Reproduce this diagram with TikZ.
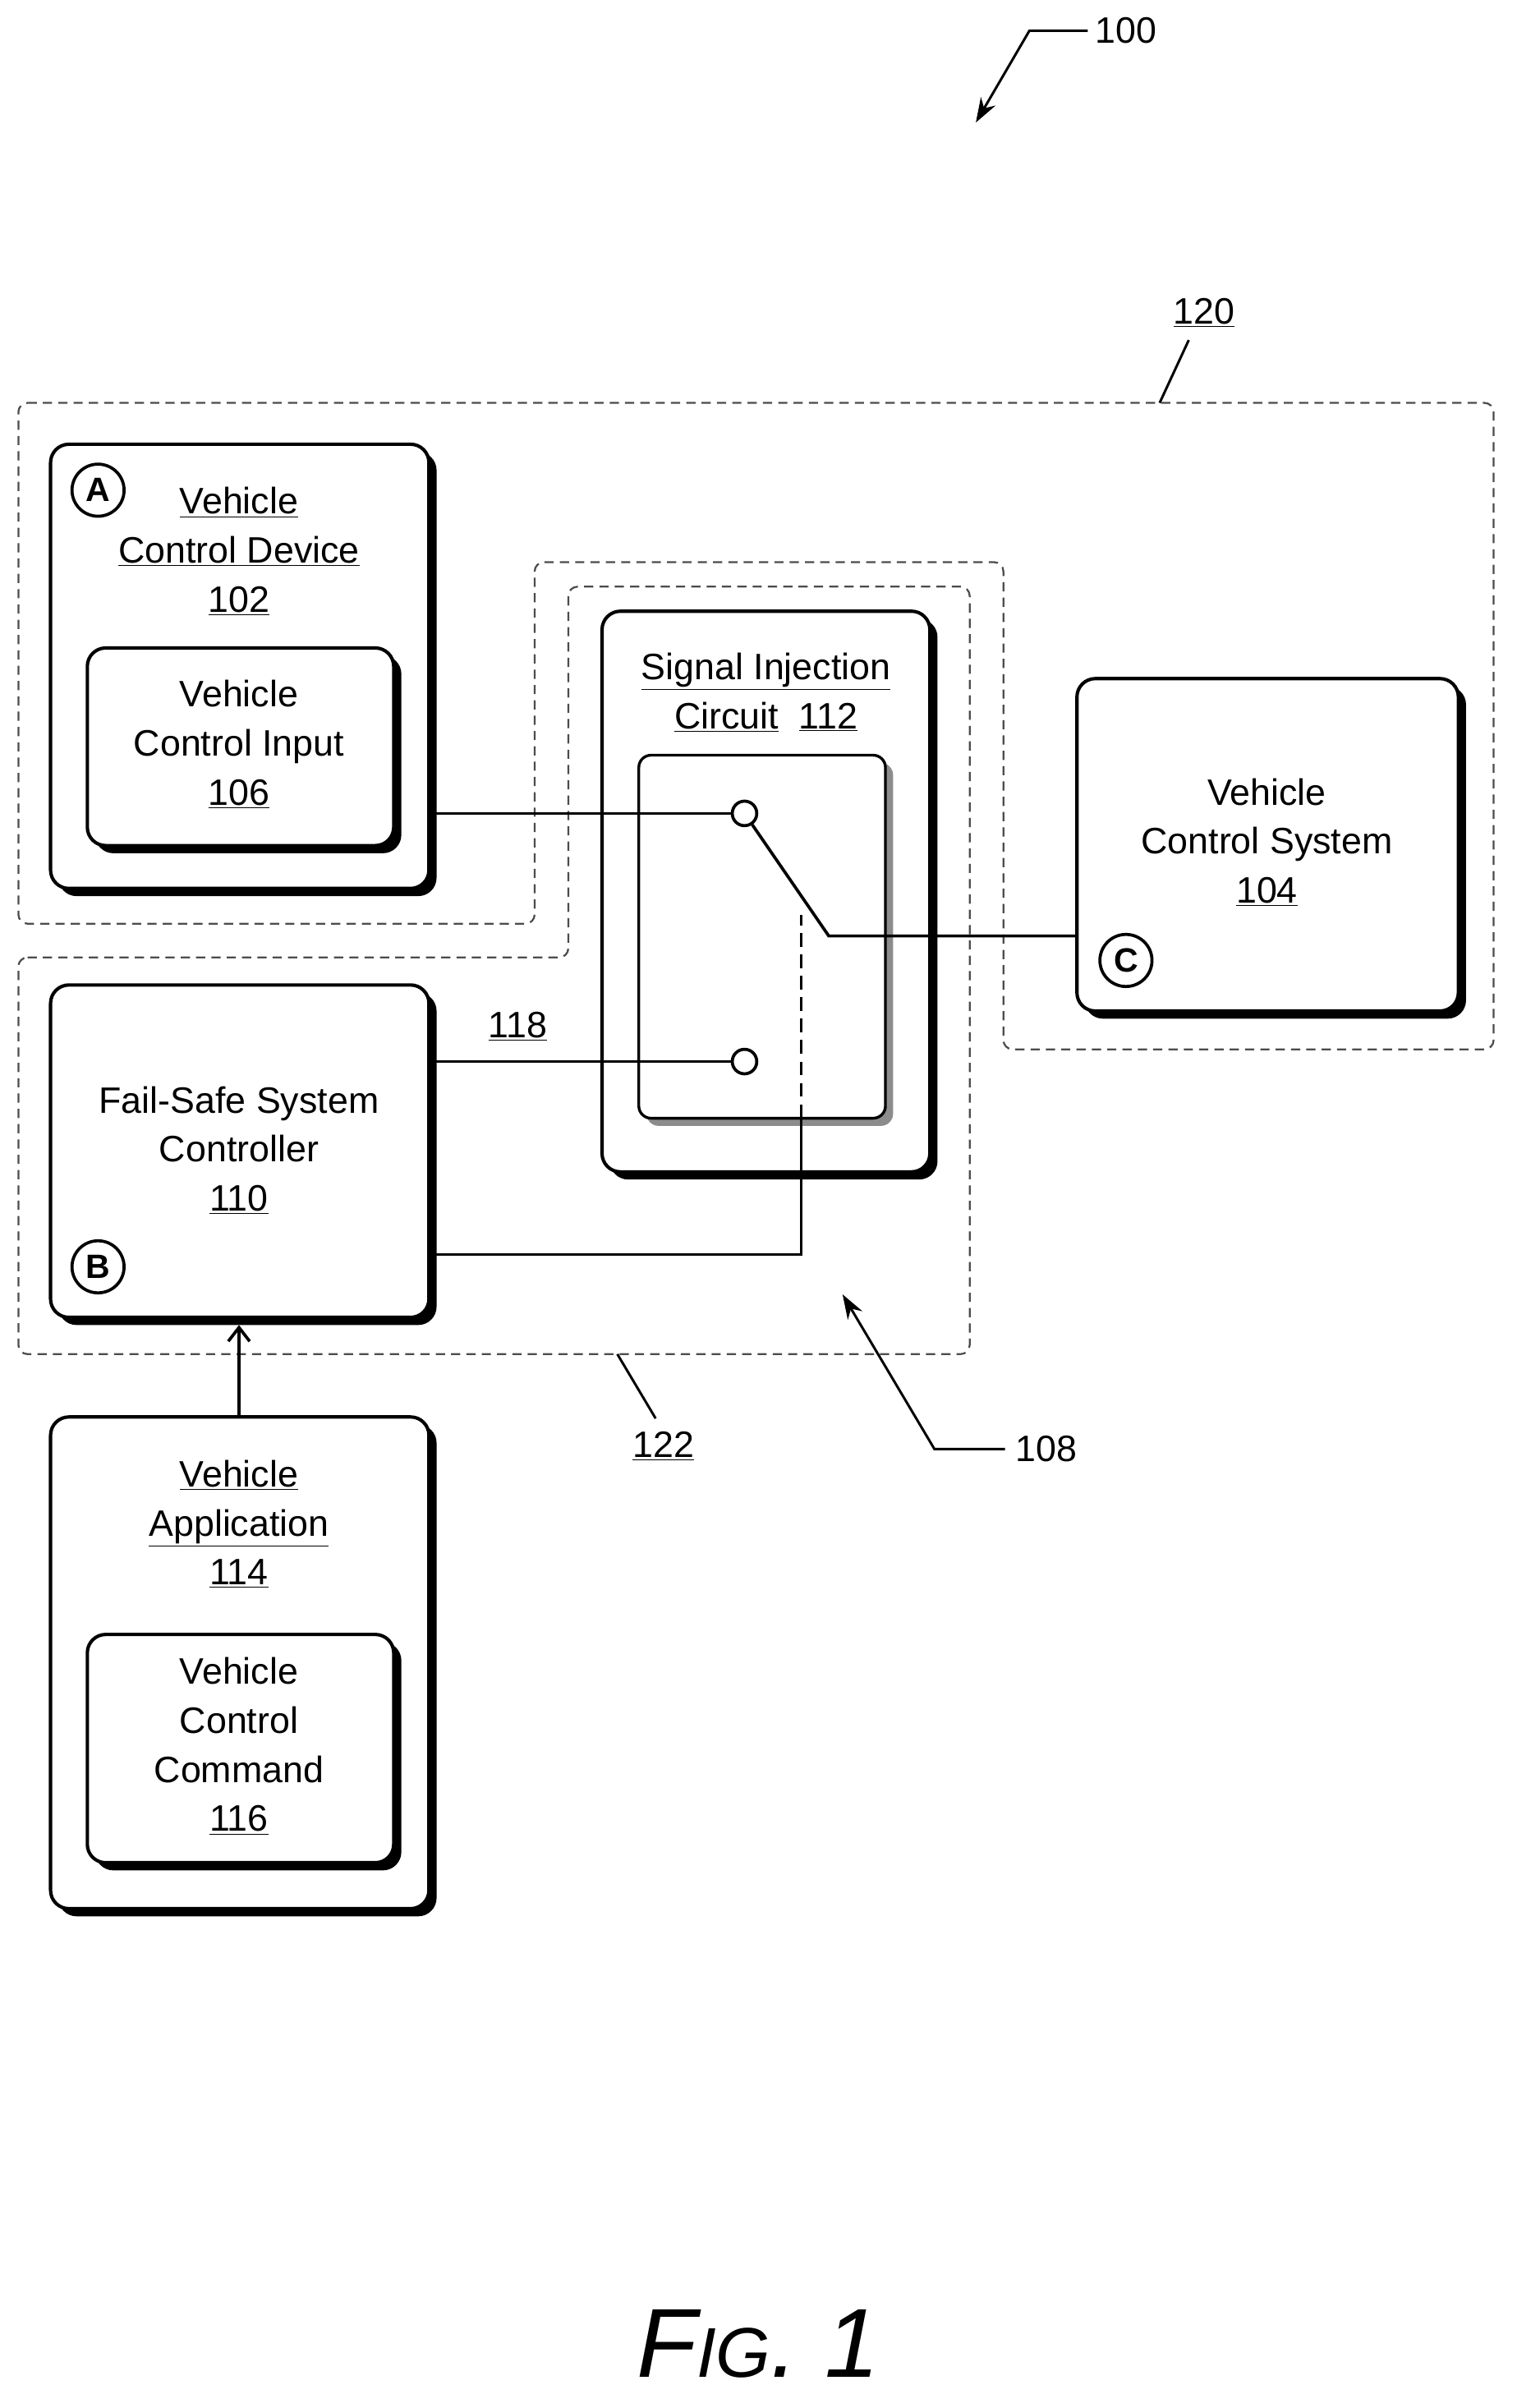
\documentclass[tikz,border=0pt]{standalone}
\usepackage{fontspec}
\setmainfont{Liberation Sans}
\usetikzlibrary{arrows.meta}
\begin{document}
\begin{tikzpicture}[x=1pt,y=-1pt,
  box/.style={draw=black,line width=2.2pt,fill=white,rounded corners=12pt},
  shadow/.style={fill=black,rounded corners=12pt},
  dashreg/.style={draw=black!70,line width=1.2pt,dash pattern=on 6pt off 4pt,rounded corners=6pt},
  txt/.style={align=center,font=\fontsize{24}{32}\selectfont},
  lbl/.style={font=\fontsize{24}{30}\selectfont},
  wire/.style={line width=2pt},
  circ/.style={circle,draw,line width=2pt,minimum size=34pt,inner sep=0pt,font=\fontsize{22}{22}\selectfont\bfseries}]
\useasboundingbox (0,0) rectangle (990,1572);
\fill[white] (0,0) rectangle (990,1572);
% dashed regions
\draw[dashreg] (12,263) -- (975,263) -- (975,685) -- (655,685) -- (655,367) -- (349,367) -- (349,603) -- (12,603) -- cycle;
\draw[dashreg] (12,625) -- (371,625) -- (371,383) -- (633,383) -- (633,884) -- (12,884) -- cycle;
% boxes
\newcommand{\mybox}[5]{\fill[shadow] (#1+#5,#2+#5) rectangle (#3+#5,#4+#5); \draw[box] (#1,#2) rectangle (#3,#4);}
\mybox{33}{290}{280}{580}{5}
\mybox{57}{423}{257}{552}{5}
\mybox{393}{399}{607}{765}{5}
\fill[black!45,rounded corners=8pt] (422,498) rectangle (583,735);
\draw[box,rounded corners=8pt,line width=1.8pt] (417,493) rectangle (578,730);
\mybox{703}{443}{952}{660}{5}
\mybox{33}{643}{280}{860}{5}
\mybox{33}{925}{280}{1246}{5}
\mybox{57}{1067}{257}{1216}{5}
% texts
\node[txt] (t102) at (156,360) {\underline{Vehicle}\\\underline{Control Device}\\\underline{102}};
\node[txt] (t106) at (156,486) {Vehicle\\Control Input\\\underline{106}};
\node[txt] (t112) at (500,452) {\underline{Signal Injection}\\\underline{Circuit}\ \ \underline{112}};
\node[txt] (t104) at (827,550) {Vehicle\\Control System\\\underline{104}};
\node[txt] (t110) at (156,751) {Fail-Safe System\\Controller\\\underline{110}};
\node[txt] (t114) at (156,995) {\underline{Vehicle}\\\underline{Application}\\\underline{114}};
\node[txt] (t116) at (156,1140) {Vehicle\\Control\\Command\\\underline{116}};
\node[circ] (A) at (64,320) {A};
\node[circ] (B) at (64,827) {B};
\node[circ] (C) at (735,627) {C};
% switch
\node[circle,draw,line width=2pt,fill=white,minimum size=16pt,inner sep=0pt] (s1) at (486,531) {};
\node[circle,draw,line width=2pt,fill=white,minimum size=16pt,inner sep=0pt] (s2) at (486,693) {};
\coordinate (p102) at (280,531);
\coordinate (p110a) at (280,693);
\coordinate (p110b) at (280,819);
\coordinate (k) at (541,611);
\coordinate (p104) at (703,611);
\draw[wire] (p102) -- (s1.west);
\draw[wire] (s1) -- (k) -- (p104);
\draw[wire] (p110a) -- (s2.west);
\draw[wire] (p110b) -- (523,819) -- (523,730);
\draw[wire,dash pattern=on 9pt off 5pt] (523,730) -- (523,597);
\node[lbl] (l118) at (338,670) {\underline{118}};
% arrow 114 -> 110
\coordinate (a1) at (156,925);
\coordinate (a2) at (156,865);
\draw[wire,-{Straight Barb[length=9pt,width=14pt]}] (a1) -- (a2);
% reference labels
\node[lbl] (l100) at (735,20) {100};
\draw[line width=1.6pt,-{Stealth[length=16pt,width=11pt]}] (710,20) -- (672,20) -- (637,80);
\node[lbl] (l120) at (786,204) {\underline{120}};
\draw[line width=1.6pt] (776,222) -- (757,263);
\node[lbl] (l122) at (433,944) {\underline{122}};
\draw[line width=1.6pt] (428,926) -- (403,884);
\node[lbl] (l108) at (683,946) {108};
\draw[line width=1.6pt,-{Stealth[length=16pt,width=11pt]}] (656,946) -- (610,946) -- (550,845);
\node[font=\fontsize{64}{64}\selectfont\itshape] (fig) at (495,1530) {F{\fontsize{46}{46}\selectfont IG}. 1};
\end{tikzpicture}
\end{document}
